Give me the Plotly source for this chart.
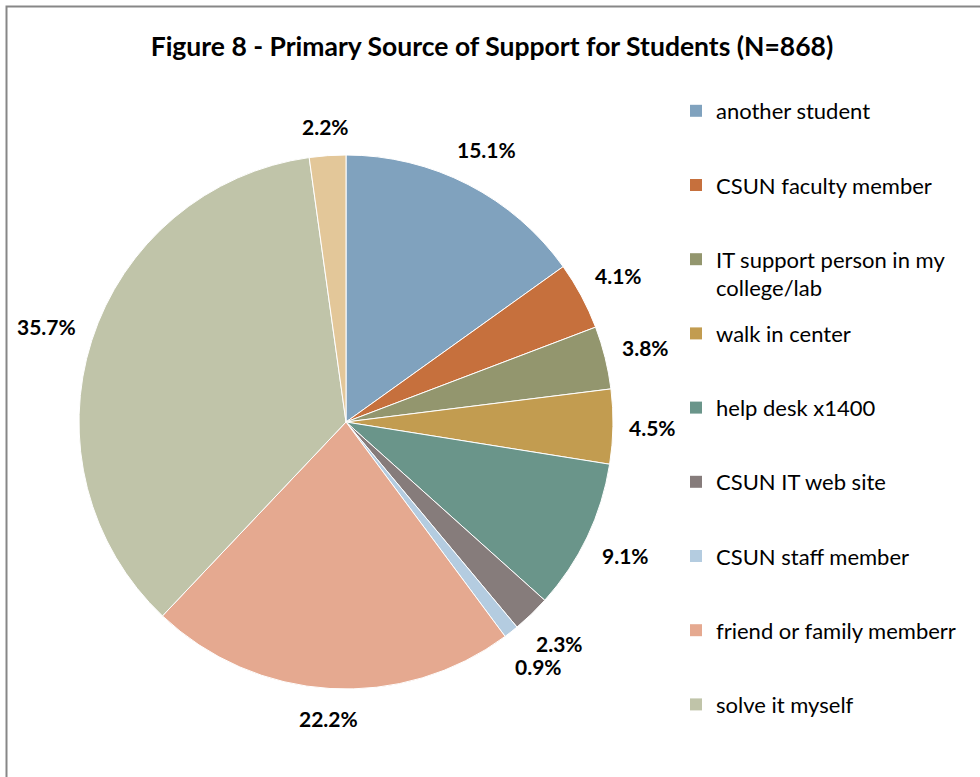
import math
import plotly.graph_objects as go

labels = ["another student", "CSUN faculty member", "IT support person in my<br>college/lab",
          "walk in center", "help desk x1400", "CSUN IT web site", "CSUN staff member",
          "friend or family memberr", "solve it myself", "other"]
values = [15.1, 4.1, 3.8, 4.5, 9.1, 2.3, 0.9, 22.2, 35.7, 2.2]
colors = ["#80A2BE", "#C6703D", "#93966E", "#C29C50", "#6A958A", "#867C7B",
          "#B4CCE0", "#E5A990", "#C0C4A9", "#E3C799"]
legend_count = 9  # the 10th entry falls outside the visible frame

W, H = 980, 777
cx, cy, r = 346, 422, 267

fig = go.Figure()
fig.add_trace(go.Pie(
    labels=labels, values=values, sort=False, direction="clockwise", rotation=0,
    marker=dict(colors=colors, line=dict(color="white", width=1)),
    textinfo="none", showlegend=False, hoverinfo="label+value",
    domain=dict(x=[(cx - r) / W, (cx + r) / W], y=[(H - cy - r) / H, (H - cy + r) / H]),
))

# outside data labels placed at each slice's mid-angle, just beyond the rim,
# pushed outward when they would collide with the previous label
total = sum(values)
cum = 0.0
annotations = []
boxes = []
hh, pad, cw, bh = 11, 17, 11.4, 22
for v in values:
    txt = f"{v:.1f}%"
    bw = len(txt) * cw
    mid = (cum + v / 2) / total * 2 * math.pi
    cum += v
    s, c = math.sin(mid), math.cos(mid)
    dist = r + pad + abs(s) * bw / 2 + abs(c) * hh
    while True:
        px, py = cx + dist * s, cy - dist * c
        if boxes:
            qx, qy, qw = boxes[-1]
            if abs(px - qx) < (bw + qw) / 2 and abs(py - qy) < bh:
                dist += 2
                continue
        break
    boxes.append((px, py, bw))
    annotations.append(dict(
        x=px / W, y=1 - py / H, xref="paper", yref="paper",
        text=txt, showarrow=False, xanchor="center", yanchor="middle",
        font=dict(family="Lato", size=21, color="black", weight="bold"),
    ))

for i in range(legend_count):
    name = labels[i] if "<br>" in labels[i] else labels[i] + "<br> "
    fig.add_trace(go.Scatter(
        x=[None], y=[None], mode="markers", name=name, legendgroup=str(i),
        marker=dict(symbol="square", size=12, color=colors[i]),
    ))

fig.update_layout(
    width=W, height=H,
    margin=dict(l=0, r=0, t=0, b=0),
    paper_bgcolor="white", plot_bgcolor="white",
    xaxis=dict(visible=False), yaxis=dict(visible=False),
    title=dict(text="<b>Figure 8 - Primary Source of Support for Students (N=868)</b>",
               x=0.502, xanchor="center", y=1 - 47 / H, yanchor="middle",
               font=dict(family="Lato", size=26.5, color="black")),
    legend=dict(x=676 / W, xanchor="left", y=1 - 90 / H, yanchor="top",
                font=dict(family="Lato", size=22, color="black"),
                tracegroupgap=14, valign="top", traceorder="grouped",
                bgcolor="rgba(0,0,0,0)"),
    annotations=annotations,
    shapes=[dict(type="rect", xref="paper", yref="paper",
                 x0=6.5 / W, x1=1.05, y0=-0.05, y1=1 - 6.5 / H,
                 line=dict(color="#878787", width=2), fillcolor="rgba(0,0,0,0)")],
)

fig.write_html("out.html", config={"displayModeBar": False},
               post_script="document.body.style.margin='0px';")
